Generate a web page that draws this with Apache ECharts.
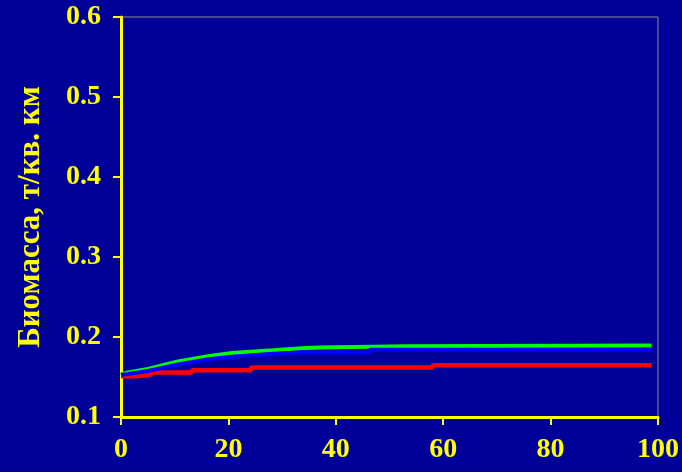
<!DOCTYPE html>
<html>
<head>
<meta charset="utf-8">
<script src="https://cdn.jsdelivr.net/npm/echarts@6/dist/echarts.min.js"></script>
<style>
  html, body { margin: 0; padding: 0; background: #000099; }
  #chart { width: 682px; height: 472px; }
</style>
</head>
<body>
<div id="chart"></div>
<script>
// Biomass over time for three scenarios (x: time, y: t per sq. km)
const xTicks = [0, 20, 40, 60, 80, 100];
const yTicks = [0.1, 0.2, 0.3, 0.4, 0.5, 0.6];
const yTitle = 'Биомасса, т/кв. км';

const greenX = [0, 1.3, 5.0, 10.6, 16.2, 20.7, 28.3, 34.4, 37.2, 37.4, 53.2, 53.4, 98.8];
const greenY = [0.1531, 0.1556, 0.1600, 0.1694, 0.1759, 0.1800, 0.1834, 0.1862, 0.1868, 0.1885, 0.1885, 0.1893, 0.1893];

const blueX = [0, 1.3, 5.0, 10.6, 16.2, 20.7, 28.3, 33.0, 46.2, 46.4, 98.8];
const blueY = [0.1525, 0.1537, 0.1575, 0.1656, 0.1721, 0.1754, 0.1791, 0.1806, 0.1806, 0.1840, 0.1840];

const redX = [0, 2.8, 5.6, 13.2, 24.2, 58.0, 98.8];
const redY = [0.1510, 0.1528, 0.1555, 0.1585, 0.1618, 0.1646, 0.1646];

const pairs = (xs, ys) => xs.map((x, i) => [x, ys[i]]);

const yellow = '#ffff00';
const serif = '"Liberation Serif", "Times New Roman", serif';
const labelFont = { color: yellow, fontFamily: serif, fontWeight: 'bold', fontSize: 28 };

const chart = echarts.init(document.getElementById('chart'));
chart.setOption({
  backgroundColor: '#000099',
  animation: false,
  grid: {
    left: 121, right: 24, top: 17, bottom: 55,
    show: true,
    borderColor: '#8c8c8c',
    borderWidth: 1,
    backgroundColor: 'transparent'
  },
  xAxis: {
    type: 'value',
    min: xTicks[0], max: xTicks[xTicks.length - 1], interval: 20,
    axisLine: { show: true, onZero: false, lineStyle: { color: yellow, width: 3 } },
    axisTick: { show: true, length: 8, lineStyle: { color: yellow, width: 2 } },
    axisLabel: Object.assign({ margin: 19 }, labelFont),
    splitLine: { show: false }
  },
  yAxis: {
    type: 'value',
    min: yTicks[0], max: yTicks[yTicks.length - 1], interval: 0.1,
    name: yTitle,
    nameLocation: 'middle',
    nameRotate: 90,
    nameGap: 75,
    nameTextStyle: { color: yellow, fontFamily: serif, fontWeight: 'bold', fontSize: 31 },
    axisLine: { show: true, onZero: false, lineStyle: { color: yellow, width: 3 } },
    axisTick: { show: true, length: 8, lineStyle: { color: yellow, width: 2 } },
    axisLabel: Object.assign({ margin: 20, formatter: v => v.toFixed(1) }, labelFont),
    splitLine: { show: false }
  },
  series: [
    {
      type: 'line', data: pairs(redX, redY), step: 'end', z: 2,
      showSymbol: false, lineStyle: { color: '#ff0000', width: 4.5, cap: 'butt' }
    },
    {
      type: 'line', data: pairs(greenX, greenY), z: 3,
      showSymbol: false, lineStyle: { color: '#00ff00', width: 4, cap: 'butt' }
    },
    {
      type: 'line', data: pairs(blueX, blueY), z: 4,
      showSymbol: false, lineStyle: { color: '#0000ff', width: 4, cap: 'butt' }
    }
  ]
});
</script>
</body>
</html>
